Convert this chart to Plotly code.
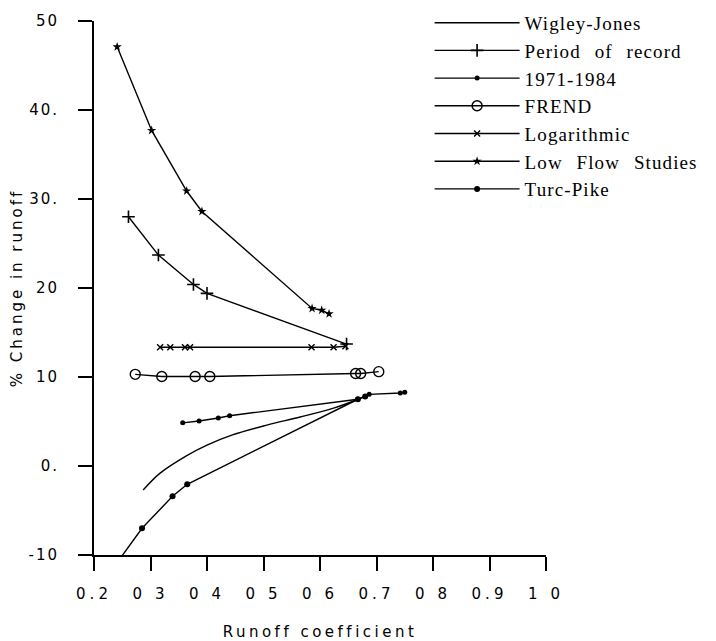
import plotly.graph_objects as go

# ---- data ----
wj_x = [0.287, 0.317, 0.365, 0.400, 0.445, 0.506, 0.565, 0.624, 0.668]
wj_y = [-2.7, -0.8, 1.2, 2.35, 3.5, 4.6, 5.5, 6.5, 7.5]

por_x = [0.261, 0.314, 0.376, 0.400, 0.647]
por_y = [28.0, 23.7, 20.4, 19.4, 13.7]

p7184_x = [0.357, 0.386, 0.420, 0.440, 0.667, 0.687, 0.742, 0.750]
p7184_y = [4.85, 5.05, 5.4, 5.65, 7.5, 8.05, 8.2, 8.3]

frend_x = [0.273, 0.320, 0.379, 0.405, 0.663, 0.672, 0.704]
frend_y = [10.3, 10.05, 10.05, 10.05, 10.4, 10.4, 10.6]

log_x = [0.317, 0.335, 0.361, 0.370, 0.585, 0.624, 0.645]
log_y = [13.35, 13.35, 13.35, 13.35, 13.35, 13.35, 13.45]

lfs_x = [0.241, 0.302, 0.364, 0.391, 0.586, 0.603, 0.616]
lfs_y = [47.1, 37.7, 30.9, 28.6, 17.7, 17.5, 17.1]

tp_x = [0.245, 0.285, 0.339, 0.365, 0.667, 0.680]
tp_y = [-10.5, -7.0, -3.4, -2.05, 7.5, 7.8]

x_ticks = [0.2, 0.3, 0.4, 0.5, 0.6, 0.7, 0.8, 0.9, 1.0]
x_ticktext = ["0.2", "0 3", "0 4", "0 5", "0 6", "0.7", "0 8", "0.9", "1 0"]
y_ticks = [-10, 0, 10, 20, 30, 40, 50]
y_ticktext = ["-10", "0.", "10", "20", "30.", "40.", "50"]


def spaced(t, px, word=None):
    style = f"letter-spacing:{px}px"
    if word is not None:
        style += f";word-spacing:{word}px"
    return f'<span style="{style}">{t}</span>'


# ---- figure ----
series = [
    ("Wigley-Jones", wj_x, wj_y, "lines", None, "spline"),
    ("Period of record", por_x, por_y, "lines+markers",
     dict(symbol="cross-thin-open", size=9, line=dict(width=1.6, color="black")), "linear"),
    ("1971-1984", p7184_x, p7184_y, "lines+markers",
     dict(symbol="circle", size=5, color="black"), "linear"),
    ("FREND", frend_x, frend_y, "lines+markers",
     dict(symbol="circle-open", size=10, color="black", line=dict(width=1.4, color="black")), "linear"),
    ("Logarithmic", log_x, log_y, "lines+markers",
     dict(symbol="x-thin-open", size=6, line=dict(width=1.4, color="black")), "linear"),
    ("Low Flow Studies", lfs_x, lfs_y, "lines+markers",
     dict(symbol="star", size=7, color="black"), "linear"),
    ("Turc-Pike", tp_x, tp_y, "lines+markers",
     dict(symbol="circle", size=6, color="black"), "linear"),
]

fig = go.Figure()
for name, xs, ys, mode, marker, shape in series:
    fig.add_trace(go.Scatter(
        x=xs, y=ys, name=spaced(name, 1.1, 8), mode=mode,
        line=dict(color="black", width=1.4, shape=shape),
        marker=marker,
        cliponaxis=False,
    ))

fig.update_layout(
    template="none",
    width=716, height=641,
    margin=dict(l=94, r=170, t=21, b=86, autoexpand=False),
    paper_bgcolor="white", plot_bgcolor="white",
    showlegend=True,
    legend=dict(
        xref="container", yref="container",
        x=0.600, y=0.994, xanchor="left", yanchor="top",
        bgcolor="rgba(0,0,0,0)", borderwidth=0,
        font=dict(family="Liberation Serif", size=19, color="black"),
        itemwidth=85,
        traceorder="normal",
    ),
    font=dict(family="DejaVu Sans", color="black"),
)
fig.update_xaxes(
    range=[0.2, 1.0], tickvals=x_ticks, ticktext=[spaced(t, 4) for t in x_ticktext],
    showgrid=False, zeroline=False, showline=True, linecolor="black", linewidth=2,
    ticks="outside", ticklen=14, tickwidth=2, tickcolor="black",
    tickfont=dict(family="DejaVu Sans", size=15),
    ticklabelstandoff=10, automargin=False,
    title=dict(text=spaced("Runoff coefficient", 3.5), font=dict(family="DejaVu Sans", size=15), standoff=24),
)
fig.update_yaxes(
    range=[-10, 50], tickvals=y_ticks, ticktext=[spaced(t, 2) for t in y_ticktext],
    showgrid=False, zeroline=False, showline=True, linecolor="black", linewidth=2,
    ticks="outside", ticklen=14, tickwidth=2, tickcolor="black",
    tickfont=dict(family="DejaVu Sans", size=15),
    ticklabelstandoff=16, automargin=False,
    title=dict(text=spaced("% Change in runoff", 3), font=dict(family="DejaVu Sans", size=15), standoff=2),
)

fig.write_html("out.html")
